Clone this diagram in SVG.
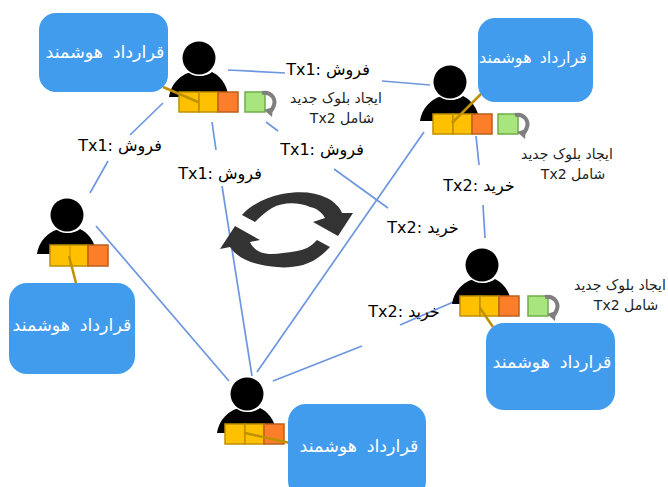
<svg xmlns="http://www.w3.org/2000/svg" width="668" height="487" viewBox="0 0 668 487">
<style>
.c{fill:#429CEE}
.ct{fill:#fff;font:17.5px "DejaVu Sans",sans-serif;text-anchor:middle;word-spacing:4px;direction:rtl}
.l{fill:#000;font:16px "DejaVu Sans",sans-serif;text-anchor:middle;direction:ltr}
.s{fill:#222;font:14px "DejaVu Sans",sans-serif;text-anchor:middle;direction:rtl}
.cn line{stroke:#6D96E0;stroke-width:1.7;fill:none}
.y{fill:#FFC000;stroke:#BF9000;stroke-width:1.5}
.o{fill:#FD7E2A;stroke:#B9601F;stroke-width:1.5}
.g{fill:#A9E57F;stroke:#70AD47;stroke-width:1.5}
.t{stroke:#BF9000;stroke-width:2.5;fill:none}
.r{fill:none;stroke:#7F7F7F;stroke-width:4}
.ah{fill:#7F7F7F}
</style>
<defs>
<g id="person">
<path d="M-30,39C-27,22-15,16-8,14C-3,19 7,19 13,14C20,17 28,26 29,37L29,39Z" fill="#000"/>
<circle r="18" fill="#fff"/>
<circle r="16.5" fill="#000"/>
</g>
<g id="chain">
<rect class="y" x="0" y="0" width="20" height="20"/>
<rect class="y" x="20" y="0" width="19" height="20"/>
<rect class="o" x="39" y="0" width="20" height="20"/>
</g>
<g id="newblock">
<rect class="g" x="0" y="0" width="20" height="20"/>
<path class="r" d="M17,1C26,-1 31,7 29,13C28,17 26,19 24,20"/>
<path class="ah" d="M19,18L28,15L27,25Z"/>
</g>
</defs>
<g id="connectors" class="cn">
<line x1="228" y1="70" x2="285" y2="73"/>
<line x1="382" y1="81" x2="430" y2="85"/>
<line x1="163" y1="103" x2="130" y2="135"/>
<line x1="108" y1="161" x2="90" y2="193"/>
<line x1="212" y1="122" x2="216" y2="150"/>
<line x1="222" y1="186" x2="252" y2="376"/>
<line x1="266" y1="122" x2="278" y2="131"/>
<line x1="334" y1="169" x2="388" y2="208"/>
<line x1="424" y1="132" x2="257" y2="372"/>
<line x1="476" y1="136" x2="479" y2="165"/>
<line x1="483" y1="205" x2="485" y2="238"/>
<line x1="273" y1="381" x2="362" y2="346"/>
<line x1="400" y1="325" x2="458" y2="300"/>
<line x1="96" y1="226" x2="229" y2="381"/>
</g>
<g id="cycle" fill="#333">
<path d="M242,215C250,205 267,197 282,194C300,191 315,192 327,198C335,202 340,208 342,213L353,213L338,236L313,222L325,218C322,212 316,208 310,207C298,202 283,202 272,208C265,212 260,217 255,222Z"/>
<path d="M330,247C322,256 313,262 303,265C294,267 285,268 277,267C262,266 240,262 230,247L220,249L235,226L260,240L250,242C252,247 256,250 260,252C268,255 275,254 283,253C292,252 300,251 307,248C311,246 314,243 317,240Z"/>
</g>
<g id="node-top-left">
<use href="#person" x="199" y="58"/>
<use href="#chain" x="179" y="92"/>
<use href="#newblock" x="245" y="92"/>
<line class="t" x1="163" y1="87" x2="198" y2="102"/>
<rect class="c" x="39" y="13" width="129" height="79" rx="17"/>
<text class="ct" x="105" y="58">قرارداد هوشمند</text>
<text class="s" x="336" y="103">ایجاد بلوک جدید</text>
<text class="s" x="342" y="123">شامل Tx2</text>
</g>
<g id="node-top-right">
<use href="#person" x="450" y="82"/>
<use href="#chain" x="433" y="114"/>
<use href="#newblock" x="498" y="114"/>
<line class="t" x1="481" y1="94" x2="452" y2="123"/>
<rect class="c" x="478" y="18" width="115" height="84" rx="17"/>
<text class="ct" x="533" y="63" style="font-size:16px;word-spacing:3px">قرارداد هوشمند</text>
<text class="s" x="567" y="159">ایجاد بلوک جدید</text>
<text class="s" x="573" y="179">شامل Tx2</text>
</g>
<g id="node-left">
<use href="#person" x="67" y="215"/>
<rect class="y" x="50" y="245" width="38" height="21"/>
<line x1="70" y1="245" x2="70" y2="266" stroke="#BF9000"/>
<rect class="o" x="88" y="245" width="20" height="21"/>
<line class="t" x1="69" y1="256" x2="76" y2="283"/>
<rect class="c" x="9" y="283" width="126" height="91" rx="18"/>
<text class="ct" x="72" y="331">قرارداد هوشمند</text>
</g>
<g id="node-right">
<use href="#person" x="482" y="265"/>
<use href="#chain" x="460" y="296"/>
<use href="#newblock" x="528" y="296"/>
<line class="t" x1="480" y1="308" x2="493" y2="327"/>
<rect class="c" x="486" y="323" width="129" height="87" rx="18"/>
<text class="ct" x="552" y="368">قرارداد هوشمند</text>
<text class="s" x="620" y="290">ایجاد بلوک جدید</text>
<text class="s" x="626" y="310">شامل Tx2</text>
</g>
<g id="node-bottom">
<use href="#person" x="247" y="394"/>
<use href="#chain" x="225" y="424"/>
<line class="t" x1="245" y1="433" x2="290" y2="443"/>
<rect class="c" x="288" y="404" width="138" height="95" rx="18"/>
<text class="ct" x="359" y="452">قرارداد هوشمند</text>
</g>
<g id="labels">
<text class="l" x="328" y="75">Tx1: فروش</text>
<text class="l" x="322" y="155">Tx1: فروش</text>
<text class="l" x="220" y="179">Tx1: فروش</text>
<text class="l" x="120" y="151">Tx1: فروش</text>
<text class="l" x="479" y="191">Tx2: خرید</text>
<text class="l" x="423" y="233">Tx2: خرید</text>
<text class="l" x="404" y="317">Tx2: خرید</text>
</g>
</svg>
